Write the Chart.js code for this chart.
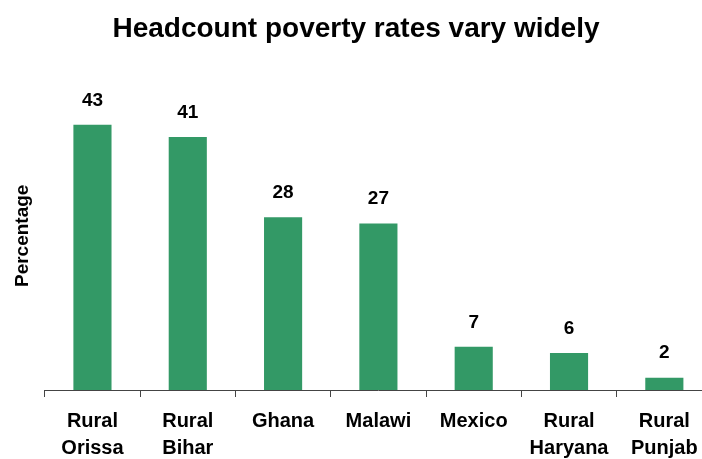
<!DOCTYPE html>
<html>
<head>
<meta charset="utf-8">
<script src="https://cdn.jsdelivr.net/npm/chart.js@4.4.0/dist/chart.umd.min.js"></script>
<style>
  body { margin: 0; overflow: hidden; background: #fff; }
  #wrap { width: 720px; height: 459px; }
</style>
</head>
<body>
<div id="wrap"><canvas id="grafica" width="720" height="459"></canvas></div>
<script>
var paises = [['Rural', 'Orissa'], ['Rural', 'Bihar'], 'Ghana', 'Malawi', 'Mexico', ['Rural', 'Haryana'], ['Rural', 'Punjab']];
var tasas = [43, 41, 28, 27, 7, 6, 2];
var escalaMax = 50;

// dibuja el valor encima de cada barra
var etiquetas = {
    id: 'etiquetas',
    afterDatasetsDraw: function (chart) {
        var ctx = chart.ctx;
        var meta = chart.getDatasetMeta(0);
        ctx.save();
        ctx.font = 'bold 19px "Liberation Sans", Arial, sans-serif';
        ctx.fillStyle = '#000';
        ctx.textAlign = 'center';
        ctx.textBaseline = 'bottom';
        meta.data.forEach(function (bar, i) {
            ctx.fillText(chart.data.datasets[0].data[i], bar.x, bar.y - 15);
        });
        ctx.restore();
    }
};

var mychart = new Chart(document.getElementById('grafica'), {
    type: 'bar',
    data: {
        labels: paises,
        datasets: [{
            label: 'Percentage',
            data: tasas,
            backgroundColor: '#339966',
            categoryPercentage: 1,
            barPercentage: 0.4
        }]
    },
    options: {
        responsive: false,
        animation: false,
        layout: { padding: { left: 0, right: 8, top: 0, bottom: -14 } },
        plugins: {
            legend: { display: false },
            tooltip: { enabled: false },
            title: {
                display: true,
                text: 'Headcount poverty rates vary widely',
                color: '#000',
                font: { family: '"Liberation Sans", Arial, sans-serif', size: 28, weight: 'bold' },
                padding: { top: 12, bottom: 36 }
            }
        },
        scales: {
            x: {
                offset: true,
                grid: { offset: true, drawOnChartArea: false, drawTicks: true, tickLength: 7, color: '#444' },
                border: { display: true, color: '#444', width: 1 },
                ticks: {
                    color: '#000',
                    padding: 11,
                    maxRotation: 0,
                    font: { family: '"Liberation Sans", Arial, sans-serif', size: 20, weight: 'bold', lineHeight: 1.35 }
                }
            },
            y: {
                min: 0,
                max: escalaMax,
                ticks: { display: false },
                grid: { display: false, drawTicks: false },
                border: { display: false },
                title: {
                    display: true,
                    text: 'Percentage',
                    color: '#000',
                    font: { family: '"Liberation Sans", Arial, sans-serif', size: 19, weight: 'bold' },
                    padding: { top: 11, bottom: 11 }
                }
            }
        }
    },
    plugins: [etiquetas]
});
</script>
</body>
</html>
